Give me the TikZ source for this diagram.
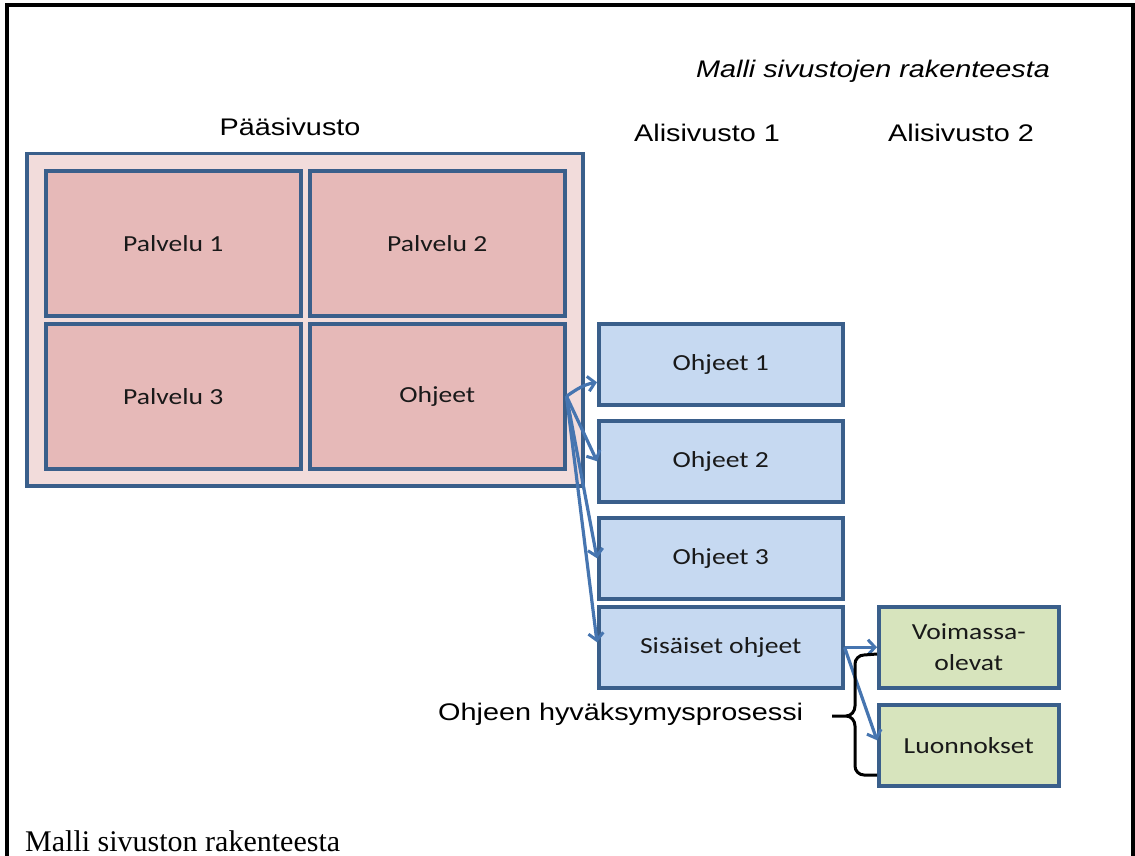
\documentclass[tikz,border=0pt]{standalone}
\usepackage{fontspec}
\setmainfont{Liberation Serif}
\newfontfamily\arialf{Liberation Sans}
\newfontfamily\calf{Carlito}
\usetikzlibrary{arrows.meta}
\definecolor{bordc}{HTML}{3A5F8B}
\definecolor{arrc}{HTML}{4675B0}
\definecolor{pinkout}{HTML}{F2DCDB}
\definecolor{pinkin}{HTML}{E6B9B8}
\definecolor{bluef}{HTML}{C6D9F1}
\definecolor{greenf}{HTML}{D7E4BD}
\newcommand{\wxs}[1]{\scalebox{1.2}[1]{#1}}
\tikzset{
  boxbase/.style={draw=bordc, line width=3.5pt, inner sep=0pt, anchor=north west,
    font=\calf\fontsize{23}{27}\selectfont, text=black!90, align=center},
  pinkbox/.style={boxbase, fill=pinkin, minimum width=255pt, minimum height=145pt},
  bluebox/.style={boxbase, fill=bluef, minimum width=244pt, minimum height=81pt},
  greenbox/.style={boxbase, fill=greenf, minimum width=180pt, minimum height=81pt},
  hdr/.style={font=\arialf\fontsize{24}{28}\selectfont, inner sep=0pt},
  conn/.style={draw=arrc, line width=3.2pt, -{Straight Barb[length=7pt,width=15pt,line width=3pt]}},
}
\begin{document}
\begin{tikzpicture}[x=1pt,y=-1pt]
\useasboundingbox (0,0) rectangle (1135,856);
% frame
\draw[line width=4pt] (7,858) -- (7,5) -- (1133,5) -- (1133,858);
% main container
\node[draw=bordc, line width=3.5pt, fill=pinkout, inner sep=0pt, anchor=north west,
  minimum width=556pt, minimum height=332pt] (main) at (25,152) {};
\node[pinkbox] (p1) at (44,169) {\wxs{Palvelu 1}};
\node[pinkbox] (p2) at (308,169) {\wxs{Palvelu 2}};
\node[pinkbox] (p3) at (44,322) {\wxs{Palvelu 3}};
\node[pinkbox] (ohj) at (308,322) {\wxs{Ohjeet}};
% sub site 1
\node[bluebox] (o1) at (597,322) {\wxs{Ohjeet 1}};
\node[bluebox] (o2) at (597,419) {\wxs{Ohjeet 2}};
\node[bluebox] (o3) at (597,516) {\wxs{Ohjeet 3}};
\node[bluebox] (sis) at (597,605) {\wxs{Sisäiset ohjeet}};
% sub site 2
\node[greenbox] (voi) at (877,605) {\wxs{Voimassa-}\\[4pt]\wxs{olevat}};
\node[greenbox] (luo) at (877,703) {\wxs{Luonnokset}};
% headings
\node[hdr, font=\arialf\itshape\fontsize{24}{28}\selectfont] (title) at (873,71) {\wxs{Malli sivustojen rakenteesta}};
\node[hdr] (hpaa) at (290,127) {\wxs{Pääsivusto}};
\node[hdr] (ha1) at (707,133) {\wxs{Alisivusto 1}};
\node[hdr] (ha2) at (961,133) {\wxs{Alisivusto 2}};
\node[hdr, anchor=west] (proc) at (438,714) {\wxs{Ohjeen hyväksymysprosessi}};
\node[anchor=base west, inner sep=0pt, font=\fontsize{30}{34}\selectfont] (cap) at (25,851) {Malli sivuston rakenteesta};
% connectors
\draw[conn] (ohj.east) to[out=35,in=190] ([yshift=-18pt]o1.west);
\draw[conn] (ohj.east) -- (o2.west);
\draw[conn] (ohj.east) -- (o3.west);
\draw[conn] (ohj.east) -- ([yshift=5pt]sis.west);
\draw[conn] (sis.east) -- (voi.west);
\draw[conn] (sis.east) -- ([yshift=5pt]luo.west);
% brace
\draw[line width=3pt, line join=round]
  (877,654) -- (864,655) to[out=180,in=90] (855,664) -- (855,706)
  to[out=-90,in=0] (846,716) -- (832,716)
  (846,716) to[out=0,in=90] (855,726) -- (855,766)
  to[out=-90,in=180] (864,775) -- (877,775);
\end{tikzpicture}
\end{document}
